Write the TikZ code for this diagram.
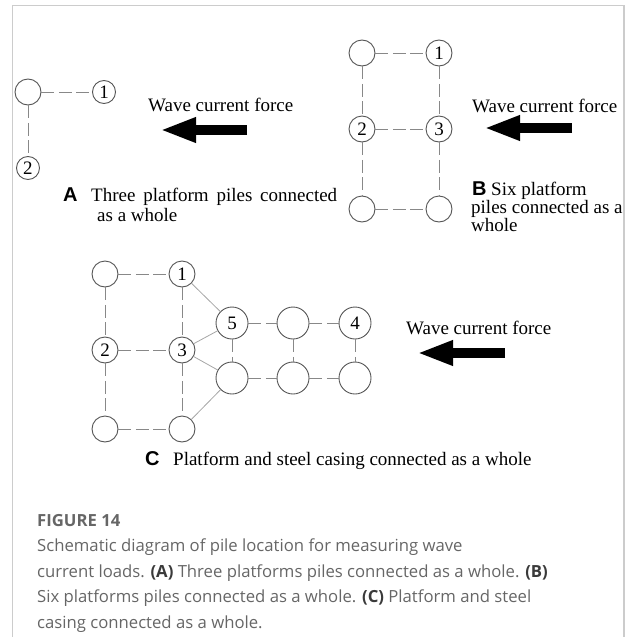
\documentclass[tikz,border=0pt]{standalone}
\usepackage{fontspec}
\setmainfont{Liberation Serif}
\newfontfamily\labelsans{Liberation Sans}
\newfontfamily\capfont{Open Sans}
\usetikzlibrary{arrows.meta}

\definecolor{framegray}{HTML}{CCCCCC}
\definecolor{pilegray}{HTML}{555555}
\definecolor{linkgray}{HTML}{888888}
\definecolor{capgray}{HTML}{666666}
\definecolor{capdark}{HTML}{3A3A3A}

\tikzset{
  pile/.style={circle, draw=pilegray, line width=0.9pt, inner sep=0pt,
               minimum size=26pt, font=\fontsize{19}{19}\selectfont},
  smallpile/.style={pile, minimum size=23pt},
  bigpile/.style={pile, minimum size=32pt},
  link/.style={draw=linkgray, line width=0.9pt, dash pattern=on 13pt off 4.5pt},
  brace/.style={draw=linkgray!75, line width=0.8pt},
  force/.style={line width=10pt, -{Triangle[length=36pt,width=23pt]}},
  serif/.style={inner sep=0pt, anchor=base west, font=\fontsize{19}{19}\selectfont},
  panel/.style={inner sep=0pt, anchor=base west, font=\labelsans\bfseries\fontsize{20}{20}\selectfont},
  captext/.style={inner sep=0pt, anchor=base west, text=capgray,
                  font=\capfont\fontsize{16.7}{16.7}\selectfont}
}
\newcommand{\capbold}[1]{{\bfseries\color{capdark}#1}}

\begin{document}
\begin{tikzpicture}[x=1pt, y=-1pt]
  \useasboundingbox (0,0) rectangle (628,637);

  % open frame round the figure
  \draw[framegray, line width=1.5pt] (12.5,637) -- (12.5,5.5) -- (624,5.5) -- (624,637);

  % ---------- (A) three piles ----------
  \node[pile]      (a0) at (28,92)  {};
  \node[smallpile] (a1) at (104,92) {1};
  \node[smallpile] (a2) at (28,168) {2};
  \draw[link] (a0) -- (a1);
  \draw[link] (a0) -- (a2);

  \node[serif] (aforce) at (148,111) {Wave current force};
  \coordinate (a-tail) at (247,130);
  \coordinate (a-tip)  at (160,130);
  \draw[force] (a-tail) -- (a-tip);

  \node[panel] (alabel) at (63,201) {A};
  \node[serif] (atext1) at (91,201) {\makebox[246pt][s]{Three platform piles connected}};
  \node[serif] (atext2) at (97,221) {as a whole};

  % ---------- (B) six piles ----------
  \node[pile] (b0) at (362,53)  {};
  \node[pile] (b1) at (439,53)  {1};
  \node[pile] (b2) at (362,129) {2};
  \node[pile] (b3) at (439,129) {3};
  \node[pile] (b4) at (362,209) {};
  \node[pile] (b5) at (439,209) {};
  \draw[link] (b0) -- (b1);
  \draw[link] (b0) -- (b2);
  \draw[link] (b1) -- (b3);
  \draw[link] (b2) -- (b3);
  \draw[link] (b2) -- (b4);
  \draw[link] (b3) -- (b5);
  \draw[link] (b4) -- (b5);

  \node[serif] (bforce) at (472,112) {Wave current force};
  \coordinate (b-tail) at (572,128);
  \coordinate (b-tip)  at (484,128);
  \draw[force] (b-tail) -- (b-tip);

  \node[panel] (blabel) at (472,195) {B};
  \node[serif] (btext1) at (491,195) {Six platform};
  \node[serif] (btext2) at (471,213) {piles connected as a};
  \node[serif] (btext3) at (471,231) {whole};

  % ---------- (C) platform and steel casing ----------
  \node[pile] (c0) at (105,274) {};
  \node[pile] (c1) at (182,274) {1};
  \node[pile] (c2) at (105,350) {2};
  \node[pile] (c3) at (182,350) {3};
  \node[pile] (c4) at (105,429) {};
  \node[pile] (c5) at (182,429) {};
  \node[bigpile] (s1) at (232,323) {5};
  \node[bigpile] (s2) at (293,323) {};
  \node[bigpile] (s3) at (355,323) {4};
  \node[bigpile] (s4) at (232,378) {};
  \node[bigpile] (s5) at (293,378) {};
  \node[bigpile] (s6) at (355,378) {};

  \draw[link] (c0) -- (c1);
  \draw[link] (c0) -- (c2);
  \draw[link] (c1) -- (c3);
  \draw[link] (c2) -- (c3);
  \draw[link] (c2) -- (c4);
  \draw[link] (c3) -- (c5);
  \draw[link] (c4) -- (c5);

  \draw[brace] (c1) -- (s1);
  \draw[brace] (c3) -- (s1);
  \draw[brace] (c3) -- (s4);
  \draw[brace] (c5) -- (s4);

  \draw[link] (s1) -- (s2);
  \draw[link] (s2) -- (s3);
  \draw[link] (s4) -- (s5);
  \draw[link] (s5) -- (s6);
  \draw[link] (s1) -- (s4);
  \draw[link] (s2) -- (s5);
  \draw[link] (s3) -- (s6);

  \node[serif] (cforce) at (406,334) {Wave current force};
  \coordinate (c-tail) at (505,353);
  \coordinate (c-tip)  at (417,353);
  \draw[force] (c-tail) -- (c-tip);

  \node[panel] (clabel) at (145,465) {C};
  \node[serif] (ctext) at (173,465) {Platform and steel casing connected as a whole};

  % ---------- caption ----------
  \node[captext, font=\capfont\bfseries\fontsize{16.7}{16.7}\selectfont, text=capgray]
    (fig) at (37,526) {FIGURE 14};
  \node[captext] (cap1) at (37,551) {Schematic diagram of pile location for measuring wave};
  \node[captext] (cap2) at (37,577) {current loads. \capbold{(A)} Three platforms piles connected as a whole. \capbold{(B)}};
  \node[captext] (cap3) at (37,602) {Six platforms piles connected as a whole. \capbold{(C)} Platform and steel};
  \node[captext] (cap4) at (37,628) {casing connected as a whole.};
\end{tikzpicture}
\end{document}
